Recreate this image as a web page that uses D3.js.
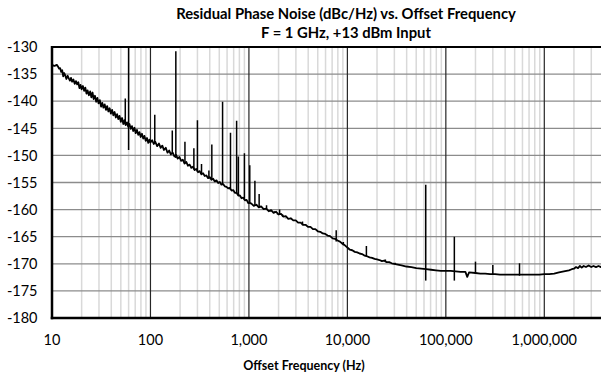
<!DOCTYPE html>
<html><head><meta charset="utf-8">
<script src="https://cdn.jsdelivr.net/npm/d3@7"></script>
<style>html,body{margin:0;padding:0;background:#fff;} svg{display:block;font-family:Lato,"Open Sans",sans-serif;}</style>
</head><body><svg id="chart" width="601" height="375"></svg>
<script>
const titleLines = ["Residual Phase Noise (dBc/Hz) vs. Offset Frequency", "F = 1 GHz, +13 dBm Input"];
const xAxisTitle = "Offset Frequency (Hz)";
const xTickValues = [10, 100, 1000, 10000, 100000, 1000000];
const yTickValues = [-130, -135, -140, -145, -150, -155, -160, -165, -170, -175, -180];

// noise floor trace [offset Hz, dBc/Hz]
const noise10to100 = [[10,-133.6],[10.3,-133.4],[10.6,-133.5],[10.9,-133.4],[11.2,-133.3],[11.5,-133.6],[11.8,-134.0],[12.1,-133.9],[12.4,-134.6],[12.7,-134.3],[13.0,-135.4],[13.3,-134.8],[13.6,-135.2],[14.0,-135.9],[14.4,-135.3],[14.8,-135.8],[15.2,-136.2],[15.6,-135.7],[16.0,-136.4],[16.5,-136.0],[17.0,-136.8],[17.5,-136.3],[18.0,-136.9],[18.5,-136.5],[19.0,-137.6],[19.5,-137.0],[20.0,-137.8],[20.6,-137.2],[21.2,-138.1],[21.8,-137.5],[22.4,-138.6],[23.0,-138.0],[23.7,-138.9],[24.4,-138.2],[25.1,-139.3],[25.8,-138.4],[26.5,-139.6],[27.3,-139.0],[28.1,-140.1],[28.9,-139.4],[29.7,-140.4],[30.6,-139.8],[31.5,-141.0],[32.4,-140.3],[33.3,-141.2],[34.3,-140.6],[35.3,-141.6],[36.3,-140.9],[37.4,-141.9],[38.5,-141.3],[39.6,-142.3],[40.8,-141.6],[42.0,-142.6],[43.2,-142.0],[44.5,-143.0],[45.8,-142.4],[47.1,-143.3],[48.5,-142.7],[50.0,-143.8],[51.5,-143.1],[53.0,-144.2],[54.5,-143.5],[56.0,-144.4],[57.7,-143.9],[59.4,-144.7],[61.2,-144.2],[63.0,-145.1],[64.9,-144.6],[66.8,-145.5],[68.8,-144.9],[70.8,-145.9],[72.9,-145.3],[75.1,-146.2],[77.3,-145.7],[79.6,-146.6],[82.0,-146.0],[84.4,-146.9],[86.9,-146.4],[89.5,-147.3],[92.2,-146.8],[95.0,-147.7],[97.8,-147.1]];
const noise100to1k = [[100,-147.6],[104,-147.2],[108,-147.9],[112,-147.5],[117,-148.3],[122,-147.8],[127,-148.6],[132,-148.2],[137,-149.0],[143,-148.6],[149,-149.5],[155,-149.1],[161,-149.8],[168,-149.5],[175,-150.2],[182,-149.9],[189,-150.6],[197,-150.3],[205,-151.0],[213,-150.8],[222,-151.5],[231,-151.2],[240,-151.9],[250,-151.7],[260,-152.3],[270,-152.1],[281,-152.7],[292,-152.5],[304,-153.1],[316,-152.9],[329,-153.5],[342,-153.3],[356,-153.8],[370,-153.7],[385,-154.2],[400,-154.0],[416,-154.5],[433,-154.3],[450,-154.8],[468,-154.6],[487,-155.1],[506,-154.9],[526,-155.4],[547,-155.3],[569,-155.7],[592,-155.8],[616,-156.1],[640,-156.0],[666,-156.5],[692,-156.4],[720,-156.9],[749,-156.9],[779,-157.4],[810,-157.4],[842,-157.9],[876,-157.8],[911,-158.3],[947,-158.2],[985,-158.8]];
const noise1kto10k = [[1000,-158.7],[1060,-158.9],[1120,-159.3],[1190,-159.1],[1260,-159.6],[1330,-159.4],[1410,-159.9],[1500,-159.8],[1590,-160.3],[1680,-160.1],[1780,-160.6],[1890,-160.4],[2000,-160.9],[2120,-160.8],[2240,-161.3],[2370,-161.2],[2510,-161.7],[2660,-161.6],[2820,-162.0],[2990,-162.0],[3160,-162.4],[3350,-162.4],[3550,-162.8],[3760,-162.8],[3980,-163.2],[4220,-163.2],[4470,-163.6],[4730,-163.6],[5010,-164.0],[5310,-164.1],[5620,-164.4],[5960,-164.5],[6310,-164.8],[6680,-164.9],[7080,-165.3],[7500,-165.4],[7940,-165.7],[8410,-165.9],[8910,-166.3],[9440,-166.6]];
const noise10kto100k = [[10000,-167.0],[10600,-167.4],[11200,-167.5],[11900,-167.8],[12600,-167.9],[13300,-168.1],[14100,-168.2],[15000,-168.5],[15800,-168.6],[16800,-168.8],[17800,-168.9],[18900,-169.1],[20000,-169.2],[21200,-169.3],[22400,-169.5],[23700,-169.4],[25100,-169.7],[26600,-169.7],[28200,-169.9],[31600,-170.1],[35500,-170.3],[39800,-170.5],[44700,-170.6],[50100,-170.8],[56200,-170.9],[63100,-171.0],[70800,-171.1],[79400,-171.2],[89100,-171.3]];
const noise100kto4M = [[100000,-171.3],[112000,-171.3],[126000,-171.4],[141000,-171.5],[158000,-171.5],[165000,-172.4],[172000,-171.6],[200000,-171.7],[224000,-171.8],[251000,-171.8],[282000,-171.9],[316000,-171.9],[355000,-172.0],[398000,-172.0],[447000,-172.0],[501000,-172.0],[562000,-172.0],[631000,-172.0],[708000,-172.0],[794000,-172.0],[891000,-172.0],[1000000,-171.9],[1120000,-171.9],[1260000,-171.8],[1410000,-171.6],[1580000,-171.4],[1780000,-171.2],[1900000,-171.0],[2000000,-170.9],[2100000,-170.6],[2200000,-170.8],[2300000,-170.4],[2400000,-170.7],[2510000,-170.4],[2650000,-170.6],[2820000,-170.3],[3000000,-170.6],[3160000,-170.4],[3350000,-170.6],[3550000,-170.4],[3760000,-170.6],[4000000,-170.5]];

// discrete spurs
const spurFreq  = [55.5, 60, 110.6, 166.6, 181, 224, 276, 300, 330, 392, 420, 540, 650, 750, 780, 900, 1020, 1150, 1270, 1510, 1830, 1950, 2050, 2200, 2350, 3500, 7700, 9100, 15600, 24300, 30500, 62500, 122000, 200000, 300000, 560000];
const spurPeak  = [-139.5, -130, -142.5, -145.4, -130.8, -147.5, -148.7, -143.5, -151.6, -152.8, -148.0, -140.1, -145.8, -143.6, -150.2, -149.6, -151.8, -154.7, -157.1, -159.2, -160.3, -160.6, -160.0, -160.9, -161.5, -162.2, -163.8, -166.0, -166.7, -169.2, -169.8, -155.4, -165.0, -169.6, -170.2, -169.9];
const spurFloor = [-144.3, -149.0, -147.8, -149.6, -150.5, -151.5, -152.6, -153.0, -153.4, -154.1, -154.4, -155.4, -156.4, -157.0, -157.3, -158.2, -158.9, -159.3, -159.6, -160.0, -160.6, -160.9, -161.0, -161.3, -161.6, -162.9, -165.9, -166.6, -168.7, -169.7, -170.1, -173.1, -173.1, -171.8, -171.9, -172.2];

const plotLeft = 52, plotTop = 47, plotBottom = 318;
const decadePx = 98.46;
const xMax = 4e6;

const svg = d3.select("#chart");
const x = d3.scaleLog().domain([10, xMax]).range([plotLeft, plotLeft + decadePx * Math.log10(xMax / 10)]);
const y = d3.scaleLinear().domain([-180, -130]).range([plotBottom, plotTop]);
const plotRight = x(xMax);

svg.append("defs").append("clipPath").attr("id", "plotclip")
  .append("rect").attr("x", plotLeft).attr("y", plotTop).attr("width", plotRight - plotLeft).attr("height", plotBottom - plotTop);

// minor vertical grid
const minorTicks = [];
for (let d = 10; d < xMax; d *= 10) for (let m = 2; m <= 9; m++) if (d * m <= xMax) minorTicks.push(d * m);
svg.append("g").selectAll("line").data(minorTicks).join("line")
  .attr("x1", d => x(d)).attr("x2", d => x(d)).attr("y1", plotTop).attr("y2", plotBottom)
  .attr("stroke", "#d9d9d9").attr("stroke-width", 1.5);

// horizontal grid
svg.append("g").selectAll("line").data(yTickValues.filter(v => v > -180 && v < -130)).join("line")
  .attr("x1", plotLeft).attr("x2", plotRight).attr("y1", d => y(d)).attr("y2", d => y(d))
  .attr("stroke", "#8c8c8c").attr("stroke-width", 1.3);

// major vertical grid
svg.append("g").selectAll("line").data(xTickValues.filter(v => v > 10)).join("line")
  .attr("x1", d => x(d)).attr("x2", d => x(d)).attr("y1", plotTop).attr("y2", plotBottom)
  .attr("stroke", "#262626").attr("stroke-width", 1.2);

const plot = svg.append("g").attr("clip-path", "url(#plotclip)");
const line = d3.line().x(d => x(d[0])).y(d => y(d[1]));
const curve = [].concat(noise10to100, noise100to1k, noise1kto10k, noise10kto100k, noise100kto4M);
plot.append("path").datum(curve).attr("d", line)
  .attr("fill", "none").attr("stroke", "#000").attr("stroke-width", 1.8).attr("stroke-linejoin", "round");

const spurs = spurFreq.map((f, i) => [[f, spurPeak[i]], [f, spurFloor[i]]]);
plot.append("g").selectAll("path").data(spurs).join("path").attr("d", line)
  .attr("fill", "none").attr("stroke", "#000").attr("stroke-width", 1.5);

// frame: top, left, bottom
svg.append("line").attr("x1", plotLeft).attr("x2", plotRight).attr("y1", plotTop).attr("y2", plotTop).attr("stroke", "#000").attr("stroke-width", 2);
svg.append("line").attr("x1", plotLeft).attr("x2", plotLeft).attr("y1", plotTop - 1).attr("y2", plotBottom + 1.25).attr("stroke", "#000").attr("stroke-width", 2.5);
svg.append("line").attr("x1", plotLeft - 1.25).attr("x2", plotRight).attr("y1", plotBottom).attr("y2", plotBottom).attr("stroke", "#000").attr("stroke-width", 2.5);

// y labels
svg.append("g").selectAll("text").data(yTickValues).join("text")
  .attr("x", 37.5).attr("y", d => y(d)).attr("dy", "0.36em").attr("text-anchor", "end")
  .attr("font-size", 14.5).attr("fill", "#000").text(d => d3.format("d")(d).replace("−", "-"));

// x labels
svg.append("g").selectAll("text").data(xTickValues).join("text")
  .attr("x", d => x(d)).attr("y", 344.5).attr("text-anchor", "middle")
  .attr("font-size", 14.5).attr("fill", "#000").text(d => d3.format(",")(d));

// titles
svg.append("g").selectAll("text").data(titleLines).join("text")
  .attr("x", 346).attr("y", (d, i) => 19 + i * 19).attr("text-anchor", "middle")
  .attr("font-size", 14.8).attr("font-weight", "bold").attr("fill", "#000").text(d => d);

svg.append("text").attr("x", 304).attr("y", 370).attr("text-anchor", "middle")
  .attr("font-size", 12.5).attr("font-weight", "bold").attr("fill", "#000").text(xAxisTitle);
</script></body></html>
